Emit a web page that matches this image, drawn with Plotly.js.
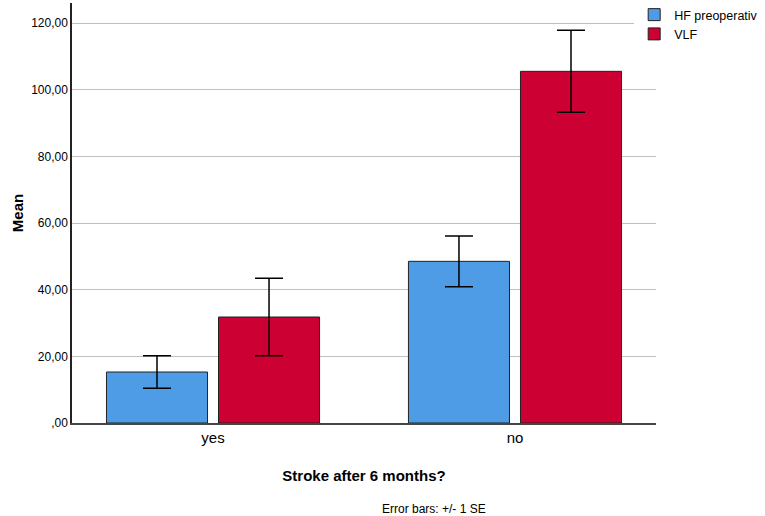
<!DOCTYPE html>
<html>
<head>
<meta charset="utf-8">
<script src="https://cdn.plot.ly/plotly-3.0.1.min.js"></script>
<style>
  html, body { margin: 0; padding: 0; background: #fff; }
  #chart { width: 765px; height: 516px; }
</style>
</head>
<body>
<div id="chart"></div>
<script>
let categories = ['yes', 'no'];
let hfMeans = [15.3, 48.5];
let hfSE = [4.9, 7.6];
let vlfMeans = [31.8, 105.5];
let vlfSE = [11.6, 12.3];
let yTickVals = [0, 20, 40, 60, 80, 100, 120];
let yTickText = [',00', '20,00', '40,00', '60,00', '80,00', '100,00', '120,00'];

let hf = {
    type: 'bar',
    name: 'HF preoperativ',
    x: categories,
    y: hfMeans,
    marker: { color: '#4e9be6', line: { color: '#222222', width: 1 } },
    error_y: { type: 'data', array: hfSE, visible: true, color: '#000000', thickness: 1.5, width: 14 }
};

let vlf = {
    type: 'bar',
    name: 'VLF',
    x: categories,
    y: vlfMeans,
    marker: { color: '#cc0033', line: { color: '#222222', width: 1 } },
    error_y: { type: 'data', array: vlfSE, visible: true, color: '#000000', thickness: 1.5, width: 14 }
};

let layout = {
    width: 765,
    height: 516,
    margin: { l: 72, r: 109, t: 3, b: 93, autoexpand: false },
    paper_bgcolor: '#ffffff',
    plot_bgcolor: '#ffffff',
    font: { family: 'Liberation Sans, Arial, sans-serif', color: '#000000' },
    barmode: 'group',
    bargap: 0.258,
    bargroupgap: 0.098,
    showlegend: true,
    legend: {
        xref: 'container', yref: 'container',
        x: 0.829, xanchor: 'left', y: 1.012, yanchor: 'top',
        font: { size: 12.5 },
        tracegroupgap: 0,
        itemwidth: 30
    },
    xaxis: {
        range: [-0.467, 1.467],
        showline: true,
        linecolor: '#444444',
        linewidth: 1.5,
        ticks: '',
        tickfont: { size: 15 },
        title: { text: '<b>Stroke after 6 months?</b>', font: { size: 15 }, standoff: 26 }
    },
    yaxis: {
        range: [0, 126],
        tickvals: yTickVals,
        ticktext: yTickText,
        tickfont: { size: 12 },
        showline: true,
        linecolor: '#222222',
        linewidth: 1.5,
        showgrid: true,
        gridcolor: '#c0c0c0',
        gridwidth: 1.2,
        zeroline: false,
        ticks: '',
        title: { text: '<b>Mean</b>', font: { size: 15 }, standoff: 4 }
    },
    annotations: [{
        text: 'Error bars: +/- 1 SE',
        xref: 'paper', yref: 'paper',
        x: 0.62, y: -0.205,
        xanchor: 'center', yanchor: 'middle',
        showarrow: false,
        font: { size: 12 }
    }]
};

Plotly.newPlot('chart', [hf, vlf], layout, { displayModeBar: false });
</script>
</body>
</html>
